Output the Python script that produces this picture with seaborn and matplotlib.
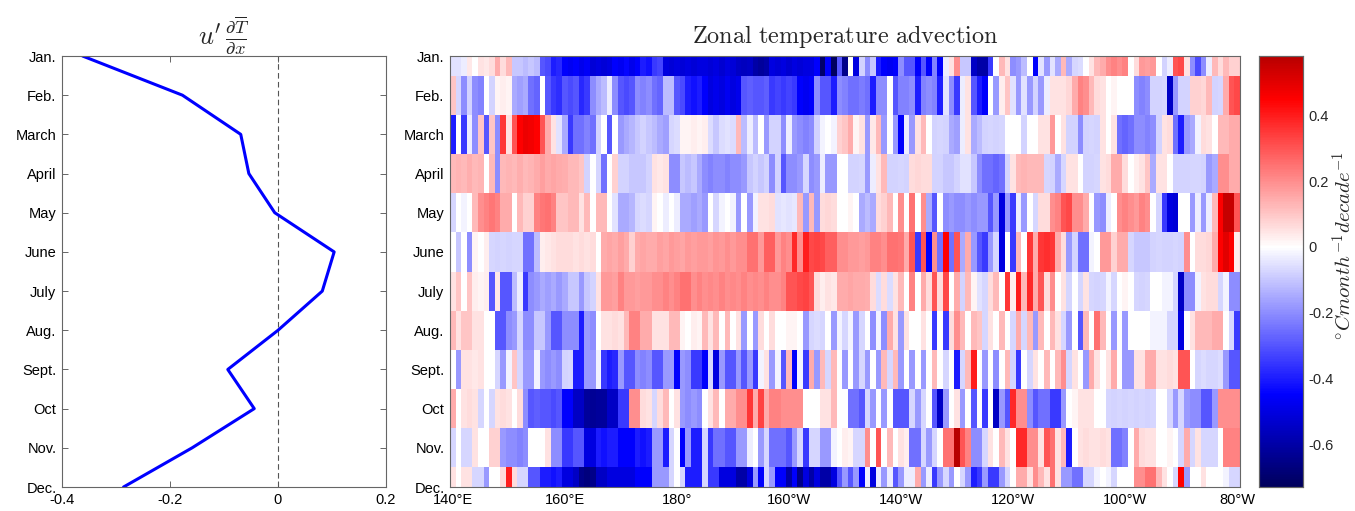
import numpy as np
import pandas as pd
import matplotlib
matplotlib.use("Agg")
import matplotlib.pyplot as plt
import seaborn as sns
from matplotlib.colors import LinearSegmentedColormap

months = ["Jan.", "Feb.", "March", "April", "May", "June", "July",
          "Aug.", "Sept.", "Oct", "Nov.", "Dec."]
u_dTdx = [-0.362, -0.177, -0.069, -0.054, -0.006, 0.104, 0.082, 0.0,
          -0.093, -0.044, -0.159, -0.286]
lon_ticks = [140, 160, 180, 200, 220, 240, 260, 280]
lon_labels = ["140°E", "160°E", "180°", "160°W", "140°W", "120°W", "100°W", "80°W"]
lons = list(range(140, 281))
cbar_ticks = [-0.6, -0.4, -0.2, 0, 0.2, 0.4]
cbar_labels = ["-0.6", "-0.4", "-0.2", "0", "0.2", "0.4"]

jan = [-0.05, -0.05, -0.03, 0.04, 0.0, 0.05, 0.04, 0.06, 0.15, 0.06,
       0.12, -0.1, -0.1, -0.12, -0.1, -0.12, -0.3, -0.32, -0.4, -0.38,
       -0.45, -0.47, -0.45, -0.48, -0.46, -0.52, -0.5, -0.52, -0.5, -0.45,
       -0.47, -0.44, -0.48, -0.45, -0.4, -0.42, -0.35, -0.33, -0.5, -0.52,
       -0.5, -0.52, -0.5, -0.52, -0.5, -0.5, -0.52, -0.5, -0.53, -0.5,
       -0.52, -0.55, -0.56, -0.55, -0.6, -0.62, -0.6, -0.5, -0.52, -0.5,
       -0.53, -0.5, -0.52, -0.5, -0.5, -0.45, -0.7, -0.45, -0.72, -0.3,
       -0.65, 0.0, -0.5, -0.08, -0.2, -0.1, -0.4, -0.45, -0.47, -0.45,
       -0.2, -0.3, -0.3, -0.45, -0.3, -0.45, -0.22, -0.45, -0.03, 0.05,
       0.2, -0.1, -0.1, -0.55, -0.6, -0.6, -0.35, 0.0, 0.12, 0.05,
       -0.2, -0.18, -0.12, 0.0, -0.45, -0.05, -0.18, -0.05, -0.15, 0.12,
       -0.15, -0.07, -0.06, 0.0, 0.05, 0.12, 0.15, 0.2, 0.22, 0.2,
       0.22, 0.0, 0.06, 0.18, 0.17, 0.18, 0.0, -0.08, -0.03, 0.3,
       0.32, 0.05, -0.2, -0.32, -0.2, -0.03, 0.12, 0.06, 0.12, 0.08, 0.08]
feb = [0.1, -0.07, -0.2, -0.08, -0.2, -0.22, 0.0, -0.08, 0.02, 0.03,
       0.02, -0.15, -0.17, -0.15, -0.25, -0.27, 0.0, -0.3, -0.35, -0.37,
       -0.3, -0.32, -0.3, -0.38, -0.35, -0.2, -0.15, -0.12, -0.03, -0.2,
       -0.3, -0.32, -0.3, -0.2, -0.22, -0.2, -0.25, -0.27, -0.12, -0.12,
       -0.3, -0.32, -0.4, -0.42, -0.4, -0.45, -0.5, -0.48, -0.5, -0.47,
       -0.5, -0.48, -0.3, -0.28, -0.3, -0.3, -0.28, -0.35, -0.33, -0.35,
       -0.33, -0.35, -0.45, -0.47, -0.45, -0.2, -0.3, -0.3, -0.4, -0.2,
       -0.22, -0.25, -0.25, -0.23, -0.25, -0.4, -0.2, -0.2, 0.0, -0.3,
       -0.22, -0.22, -0.2, -0.4, -0.22, -0.2, -0.22, -0.4, -0.05, -0.2,
       -0.35, -0.03, 0.05, -0.3, -0.4, -0.45, 0.0, -0.18, 0.03, 0.1,
       -0.05, -0.18, -0.05, -0.18, -0.08, -0.18, -0.03, 0.05, 0.05, 0.05,
       0.07, 0.15, 0.22, 0.2, 0.12, 0.06, 0.05, 0.0, 0.02, 0.0,
       0.0, 0.0, -0.2, -0.22, -0.2, -0.08, -0.08, -0.07, -0.55, -0.18,
       -0.08, -0.08, 0.08, 0.08, 0.07, 0.12, -0.08, -0.07, 0.15, 0.3, 0.32]
mar = [-0.4, 0.0, -0.35, -0.03, -0.2, 0.1, -0.3, 0.1, -0.2, 0.35,
       0.05, 0.3, 0.45, 0.48, 0.47, 0.45, 0.3, 0.15, 0.05, -0.05,
       -0.15, -0.35, -0.25, -0.25, -0.22, -0.25, -0.08, 0.0, -0.3, 0.0,
       -0.18, -0.15, -0.13, -0.1, -0.08, -0.1, -0.12, -0.15, -0.17, -0.07,
       -0.06, 0.02, 0.02, 0.03, 0.02, 0.03, -0.06, -0.1, -0.06, -0.05,
       -0.06, 0.12, -0.12, -0.03, -0.12, 0.0, -0.18, -0.08, -0.08, -0.2,
       -0.03, -0.18, -0.2, -0.22, -0.2, -0.08, -0.02, 0.0, -0.02, 0.08,
       0.1, 0.15, 0.02, 0.05, -0.18, 0.04, 0.12, -0.18, 0.0, -0.18,
       -0.45, -0.03, -0.18, 0.05, 0.12, 0.0, -0.08, -0.07, -0.08, -0.15,
       -0.17, -0.03, 0.05, -0.15, -0.12, -0.08, -0.07, -0.08, -0.07, 0.0,
       0.0, 0.0, -0.08, 0.0, 0.0, 0.05, 0.05, 0.18, 0.0, 0.05,
       -0.08, -0.08, -0.2, -0.08, -0.07, -0.08, 0.05, 0.0, 0.05, -0.25,
       -0.27, -0.25, -0.2, -0.2, -0.22, -0.2, -0.08, 0.05, 0.06, -0.25,
       -0.4, -0.18, -0.15, -0.02, 0.06, 0.05, 0.0, 0.12, 0.12, 0.15, 0.15]
apr = [0.12, 0.13, 0.12, 0.14, 0.12, 0.13, 0.0, 0.12, -0.2, 0.12,
       0.13, 0.12, 0.14, 0.12, 0.13, 0.15, 0.17, 0.15, 0.16, 0.15,
       0.14, 0.12, 0.12, 0.1, -0.08, 0.0, -0.07, -0.25, 0.0, 0.08,
       -0.08, -0.08, -0.1, -0.1, -0.1, -0.08, 0.05, 0.04, 0.05, -0.2,
       -0.2, -0.1, -0.12, -0.1, -0.15, -0.2, -0.22, -0.2, -0.2, -0.22,
       -0.2, -0.2, -0.18, -0.1, -0.08, -0.1, -0.08, -0.2, -0.08, -0.3,
       -0.2, -0.2, -0.18, -0.07, -0.2, -0.18, -0.03, -0.18, -0.18, 0.0,
       0.0, -0.08, -0.08, -0.07, -0.18, -0.03, 0.05, 0.12, -0.08, -0.08,
       -0.07, -0.08, 0.06, 0.07, 0.06, 0.06, -0.08, -0.08, -0.1, -0.1,
       -0.08, -0.05, -0.05, -0.1, -0.2, -0.25, -0.25, -0.27, -0.25, -0.08,
       0.05, 0.12, 0.13, 0.12, 0.12, 0.12, -0.07, -0.08, -0.15, -0.07,
       0.05, 0.05, 0.0, -0.08, -0.08, -0.07, 0.05, 0.06, 0.15, 0.15,
       0.06, 0.0, 0.03, 0.05, 0.1, -0.15, 0.05, 0.05, 0.0, -0.08,
       -0.08, -0.08, -0.07, -0.07, -0.08, -0.18, -0.15, 0.2, 0.2, 0.15, 0.15]
may = [-0.07, 0.0, -0.02, 0.0, 0.12, 0.2, 0.22, 0.24, 0.22, 0.15,
       0.15, 0.0, 0.12, 0.08, 0.08, 0.22, 0.24, 0.25, 0.22, 0.1,
       0.1, 0.12, 0.12, 0.05, 0.12, 0.0, 0.12, 0.12, 0.0, -0.05,
       -0.15, -0.15, -0.13, -0.07, -0.06, -0.07, 0.02, 0.0, -0.03, 0.0,
       -0.03, -0.15, -0.15, -0.17, -0.15, -0.18, 0.0, -0.07, -0.02, 0.0,
       -0.02, -0.18, 0.0, -0.18, -0.02, 0.05, 0.05, 0.06, -0.05, -0.04,
       -0.05, -0.04, 0.12, -0.18, 0.12, -0.18, 0.06, 0.07, 0.06, 0.0,
       0.0, 0.02, 0.0, -0.15, -0.12, -0.15, 0.06, 0.08, 0.12, 0.0,
       0.2, 0.0, 0.25, 0.0, 0.2, -0.15, -0.3, 0.0, -0.2, -0.18,
       -0.2, -0.2, -0.18, -0.2, -0.18, -0.18, -0.3, -0.18, -0.5, -0.18,
       -0.35, -0.03, -0.18, 0.0, -0.07, 0.06, 0.06, 0.2, 0.22, 0.3,
       0.32, 0.2, 0.2, 0.15, 0.0, -0.18, -0.2, -0.03, 0.0, 0.2,
       0.22, 0.2, 0.18, 0.22, 0.2, 0.0, -0.07, -0.35, -0.5, -0.52,
       0.0, 0.0, -0.18, -0.03, -0.18, -0.03, 0.12, 0.45, 0.55, 0.55, 0.3]
jun = [0.0, -0.1, 0.0, -0.2, 0.02, 0.0, 0.03, -0.07, -0.08, -0.07,
       -0.08, -0.07, -0.07, -0.25, -0.25, -0.12, 0.03, 0.04, 0.05, 0.06,
       0.06, 0.06, 0.05, 0.06, 0.05, 0.06, 0.0, 0.15, 0.16, 0.15,
       0.17, 0.15, 0.08, 0.15, 0.16, 0.15, 0.15, 0.17, 0.16, 0.18,
       0.17, 0.16, 0.18, 0.17, 0.18, 0.18, 0.17, 0.19, 0.18, 0.2,
       0.18, 0.2, 0.2, 0.25, 0.25, 0.18, 0.28, 0.28, 0.18, 0.22,
       0.2, 0.38, 0.2, 0.4, 0.32, 0.33, 0.32, 0.28, 0.28, 0.2,
       0.2, 0.18, 0.18, 0.17, 0.18, 0.22, 0.22, 0.2, 0.25, 0.25,
       0.24, 0.15, 0.3, -0.35, 0.3, -0.45, 0.2, -0.25, 0.45, -0.25,
       0.3, -0.15, 0.15, -0.18, -0.3, -0.35, -0.18, -0.07, -0.5, 0.0,
       -0.35, 0.12, 0.0, 0.35, 0.15, 0.35, 0.37, 0.35, 0.15, 0.06,
       -0.18, -0.08, -0.25, -0.25, -0.02, 0.0, 0.18, 0.18, 0.08, 0.15,
       0.15, -0.07, -0.1, -0.1, -0.1, -0.08, -0.07, -0.08, -0.08, -0.07,
       -0.08, 0.2, 0.0, 0.06, 0.06, 0.07, 0.15, 0.45, 0.5, 0.45, 0.03]
jul = [0.05, 0.1, 0.0, 0.1, 0.03, 0.02, 0.03, -0.3, 0.04, -0.3,
       -0.3, -0.12, -0.03, -0.35, -0.2, -0.18, -0.15, -0.17, -0.15, -0.18,
       -0.15, -0.1, -0.1, -0.18, -0.1, -0.08, 0.05, 0.18, 0.18, 0.17,
       0.22, 0.18, 0.18, 0.17, 0.18, 0.18, 0.2, 0.2, 0.22, 0.2,
       0.22, 0.25, 0.25, 0.2, 0.22, 0.2, 0.21, 0.2, 0.22, 0.2,
       0.21, 0.2, 0.22, 0.2, 0.21, 0.2, 0.22, 0.2, 0.2, 0.22,
       0.3, 0.3, 0.32, 0.33, 0.3, 0.06, 0.03, 0.05, 0.04, 0.15,
       0.15, 0.16, 0.15, 0.15, 0.14, 0.06, -0.06, 0.06, -0.06, 0.05,
       0.12, 0.0, 0.22, 0.0, 0.15, 0.06, 0.3, 0.06, 0.32, 0.0,
       0.15, -0.08, 0.12, 0.02, -0.05, -0.07, 0.06, 0.12, 0.0, 0.35,
       0.03, 0.4, 0.12, 0.38, 0.15, 0.3, 0.06, 0.2, 0.0, 0.05,
       -0.07, 0.0, -0.07, 0.05, -0.07, -0.08, -0.07, -0.02, -0.07, 0.0,
       0.02, 0.0, -0.07, -0.08, -0.07, 0.0, 0.0, -0.02, -0.02, -0.07,
       -0.55, -0.2, -0.2, -0.02, 0.05, 0.06, 0.06, -0.07, -0.02, -0.2, -0.2]
aug = [0.12, 0.05, 0.1, 0.1, 0.05, 0.05, 0.0, 0.0, -0.3, -0.3,
       -0.2, -0.18, -0.07, -0.2, -0.2, -0.1, -0.1, -0.18, -0.3, -0.3,
       -0.2, -0.2, -0.2, -0.4, -0.18, -0.2, 0.0, 0.05, 0.05, 0.06,
       0.05, 0.12, 0.22, 0.22, 0.15, 0.15, 0.05, 0.05, 0.05, 0.12,
       0.12, 0.02, 0.0, 0.03, 0.02, 0.12, 0.05, 0.12, 0.0, 0.12,
       0.0, 0.05, -0.18, 0.0, -0.18, 0.06, 0.0, 0.06, 0.0, 0.0,
       0.02, 0.02, 0.0, -0.18, -0.07, -0.06, -0.07, 0.0, -0.18, -0.02,
       -0.07, -0.02, -0.18, -0.07, 0.0, -0.2, -0.02, -0.2, 0.15, 0.05,
       -0.18, 0.05, 0.0, 0.0, 0.05, 0.0, -0.35, 0.0, -0.35, 0.06,
       0.2, 0.12, 0.0, 0.12, 0.1, -0.07, 0.05, 0.0, 0.12, 0.0,
       -0.07, 0.15, -0.07, 0.12, -0.18, 0.12, 0.0, 0.12, 0.05, -0.07,
       -0.18, 0.0, -0.3, 0.12, 0.0, 0.25, 0.12, 0.0, -0.18, 0.0,
       -0.18, 0.0, 0.0, 0.0, 0.0, -0.02, -0.02, -0.02, -0.07, -0.07,
       -0.5, 0.0, 0.05, 0.12, 0.12, 0.12, 0.15, 0.15, 0.0, -0.07, -0.35]
sep = [0.0, -0.18, 0.05, 0.05, 0.04, 0.05, 0.0, 0.0, -0.07, -0.18,
       -0.02, 0.1, -0.07, -0.18, -0.18, -0.02, -0.18, -0.2, -0.18, -0.2,
       -0.08, -0.07, -0.4, -0.4, -0.18, -0.18, -0.02, -0.35, -0.4, -0.38,
       -0.18, -0.3, -0.3, -0.2, -0.22, -0.2, -0.3, -0.3, -0.18, -0.18,
       -0.45, -0.18, -0.2, -0.35, -0.35, -0.45, -0.07, -0.5, -0.18, -0.3,
       -0.3, -0.18, -0.3, -0.18, -0.35, -0.02, 0.05, -0.18, -0.02, -0.3,
       0.12, -0.45, -0.02, -0.35, 0.15, -0.18, 0.12, -0.07, 0.12, 0.0,
       -0.18, 0.0, -0.18, -0.07, -0.18, 0.0, -0.18, 0.12, -0.07, 0.12,
       -0.18, 0.0, -0.18, 0.0, -0.18, 0.0, 0.12, 0.0, -0.07, 0.0,
       -0.4, -0.07, 0.12, 0.4, 0.0, -0.18, 0.0, -0.2, 0.0, 0.12,
       -0.07, -0.35, 0.0, -0.07, 0.05, 0.0, 0.12, 0.0, 0.12, 0.2,
       -0.07, 0.05, 0.0, -0.18, 0.15, 0.05, 0.0, 0.05, 0.15, 0.0,
       -0.18, -0.18, 0.05, 0.05, 0.15, 0.15, 0.05, 0.05, 0.06, 0.05,
       0.3, 0.3, 0.0, -0.07, -0.06, -0.07, -0.07, -0.06, -0.18, -0.3, -0.3]
oct_ = [0.15, 0.0, 0.05, 0.06, 0.05, -0.07, 0.0, -0.07, 0.05, 0.06,
        0.05, 0.0, 0.06, -0.2, -0.3, -0.28, -0.3, -0.3, -0.32, -0.3,
        -0.45, -0.45, -0.55, -0.55, -0.62, -0.63, -0.62, -0.62, -0.55, -0.55,
        -0.35, -0.35, 0.2, 0.2, 0.06, 0.05, -0.07, 0.06, 0.12, 0.0,
        0.05, -0.18, -0.2, -0.18, -0.2, 0.0, 0.05, 0.12, 0.0, 0.15,
        0.15, 0.2, 0.2, 0.35, 0.15, 0.33, 0.15, 0.22, 0.22, 0.2,
        0.2, 0.2, 0.2, 0.0, 0.0, 0.0, 0.05, 0.05, 0.12, 0.0,
        0.0, -0.25, -0.25, -0.3, -0.07, -0.18, 0.0, -0.18, 0.0, -0.3,
        -0.3, -0.3, -0.07, -0.18, -0.07, 0.0, -0.3, -0.55, -0.18, 0.0,
        0.05, -0.18, 0.0, -0.3, 0.0, -0.35, 0.0, -0.55, -0.18, -0.3,
        0.38, 0.2, 0.2, -0.2, -0.3, -0.25, -0.25, -0.35, -0.35, -0.18,
        0.0, 0.02, 0.05, 0.05, 0.05, 0.0, 0.0, -0.07, -0.08, -0.07,
        -0.08, -0.07, -0.08, -0.07, -0.08, -0.07, 0.0, 0.0, -0.07, -0.18,
        -0.07, -0.18, -0.2, -0.2, -0.3, -0.3, -0.18, 0.2, 0.2, 0.2, 0.2]
nov = [-0.07, 0.0, -0.07, -0.07, 0.05, 0.0, 0.0, 0.08, 0.08, -0.18,
       -0.2, -0.2, -0.22, -0.2, 0.0, 0.0, 0.0, 0.05, -0.2, -0.2,
       -0.35, -0.35, -0.3, -0.3, -0.5, -0.5, -0.4, -0.42, -0.4, -0.4,
       -0.45, -0.45, -0.45, -0.4, -0.42, -0.4, -0.18, -0.18, -0.4, -0.07,
       0.0, -0.45, -0.18, -0.4, -0.4, -0.07, -0.35, -0.25, -0.25, -0.3,
       -0.3, -0.18, -0.18, -0.03, 0.0, -0.18, -0.07, -0.25, -0.25, -0.25,
       -0.3, -0.18, -0.07, -0.35, -0.07, -0.07, -0.18, -0.18, -0.02, 0.0,
       0.03, 0.02, -0.07, -0.07, 0.2, 0.0, 0.3, 0.0, 0.12, 0.0,
       0.05, 0.03, -0.25, -0.25, -0.07, -0.18, -0.07, 0.0, 0.25, 0.25,
       0.58, 0.3, 0.22, -0.2, -0.2, -0.07, 0.05, 0.0, 0.12, 0.05,
       0.0, 0.38, 0.38, 0.2, 0.2, 0.05, 0.3, 0.25, 0.05, 0.12,
       -0.4, 0.0, 0.05, 0.06, 0.05, 0.05, 0.06, 0.05, -0.25, -0.25,
       -0.22, 0.0, 0.15, 0.06, 0.05, 0.05, 0.0, 0.0, 0.02, 0.0,
       -0.07, 0.15, -0.07, 0.05, -0.07, -0.07, -0.07, 0.0, 0.22, 0.22, 0.22]
dec = [0.05, 0.0, 0.05, 0.05, -0.07, -0.07, -0.18, 0.0, 0.0, 0.06,
       0.4, 0.06, -0.07, -0.07, -0.3, -0.3, -0.4, -0.4, -0.42, -0.4,
       -0.5, -0.5, -0.55, -0.65, -0.67, -0.65, -0.55, -0.55, -0.5, -0.5,
       -0.5, -0.5, -0.5, -0.45, -0.45, -0.45, -0.18, -0.18, -0.18, -0.07,
       0.0, -0.07, -0.4, -0.4, -0.4, -0.07, -0.35, -0.35, -0.5, -0.5,
       -0.5, -0.6, -0.6, -0.5, -0.18, -0.45, -0.07, -0.18, -0.45, -0.45,
       -0.6, -0.45, -0.65, -0.5, -0.6, -0.5, -0.6, -0.6, -0.5, -0.3,
       -0.18, -0.3, -0.18, -0.45, -0.03, -0.5, -0.03, -0.18, -0.03, -0.3,
       -0.18, -0.03, -0.03, 0.15, -0.18, -0.03, -0.35, -0.18, -0.07, -0.18,
       0.0, -0.07, -0.18, -0.4, -0.35, -0.18, -0.35, -0.35, -0.18, -0.07,
       0.0, 0.15, 0.15, 0.05, 0.2, 0.12, 0.05, 0.25, 0.05, -0.18,
       -0.18, -0.25, -0.25, -0.07, -0.07, -0.02, 0.0, -0.02, -0.07, 0.0,
       0.0, 0.0, 0.2, 0.2, 0.25, 0.25, 0.12, 0.05, 0.0, -0.07,
       0.45, -0.18, 0.0, 0.0, 0.05, 0.0, 0.0, 0.0, -0.02, -0.07, -0.07]

rows = [jan, feb, mar, apr, may, jun, jul, aug, sep, oct_, nov, dec]
for r in rows:
    assert len(r) == len(lons), len(r)
adv = pd.DataFrame(rows, index=months, columns=lons)

# ---------------- style ----------------
sns.set_style("white")
plt.rcParams["font.family"] = ["Liberation Sans", "DejaVu Sans"]
plt.rcParams["mathtext.fontset"] = "cm"
plt.rcParams["axes.unicode_minus"] = False

VMIN, VMAX = -0.73, 0.58
nodes = [(-0.73, (0.0, 0.0, 0.36)), (-0.45, (0.0, 0.0, 1.0)), (0.0, (1.0, 1.0, 1.0)),
         (0.45, (1.0, 0.0, 0.0)), (0.58, (0.72, 0.0, 0.0))]
cmap = LinearSegmentedColormap.from_list(
    "rb", [((v - VMIN) / (VMAX - VMIN), c) for v, c in nodes])

W, H = 1355, 511
fig = plt.figure(figsize=(W / 100, H / 100), dpi=100)
bot = 1 - 487 / H
hgt = (487 - 56) / H
ax1 = fig.add_axes([62 / W, bot, (386 - 62) / W, hgt])
ax2 = fig.add_axes([450 / W, bot, (1240 - 450) / W, hgt])
cax = fig.add_axes([1259 / W, bot, (1303 - 1259) / W, hgt])

frame = "#666666"
tick_fs = 10.5

# ---------------- left line plot ----------------
ax1.axvline(0, color="#555555", lw=0.8, ls=(0, (5, 3)))
sns.lineplot(x=u_dTdx, y=list(range(1, 13)), sort=False, estimator=None,
             color="#0000ff", lw=2.2, ax=ax1)
ax1.set_xlim(-0.4, 0.2)
ax1.set_ylim(12, 1)
ax1.set_yticks(range(1, 13))
ax1.set_yticklabels(months)
ax1.set_xticks([-0.4, -0.2, 0, 0.2])
ax1.set_xticklabels(["-0.4", "-0.2", "0", "0.2"])
ax1.set_title(r"$u'\,\frac{\partial\overline{T}}{\partial x}$", fontsize=19, pad=8)

# ---------------- heatmap ----------------
sns.heatmap(adv, ax=ax2, cmap=cmap, vmin=VMIN, vmax=VMAX, cbar_ax=cax,
            xticklabels=False, yticklabels=False,
            cbar_kws={"ticks": cbar_ticks})
ax2.set_xlim(0, len(lons))
ax2.set_ylim(11.5, 0.5)
ax2.set_yticks(np.arange(12) + 0.5)
ax2.set_yticklabels(months, rotation=0)
ax2.set_xticks([lons.index(t) + 0.5 for t in lon_ticks])
ax2.set_xticklabels(lon_labels, rotation=0)
ax2.set_xlabel("")
ax2.set_ylabel("")
ax2.set_title(r"$\mathrm{Zonal\ temperature\ advection}$", fontsize=17.5, pad=9)

for ax in (ax1, ax2):
    for s in ax.spines.values():
        s.set_visible(True)
        s.set_color(frame)
        s.set_linewidth(0.8)
    ax.tick_params(direction="in", length=4, width=0.7, color=frame,
                   top=True, right=True, bottom=True, left=True,
                   labelsize=tick_fs, labelcolor="black", pad=4)

# ---------------- colorbar ----------------
cax.set_yticks(cbar_ticks)
cax.set_yticklabels(cbar_labels)
cax.tick_params(direction="in", length=4, width=0.7, color=frame,
                left=True, right=True, labelleft=False, labelright=True,
                labelsize=tick_fs, pad=4)
for s in cax.spines.values():
    s.set_visible(True)
    s.set_color(frame)
    s.set_linewidth(0.8)
fig.text(1344 / W, 1 - 245 / H, r"$^{\circ}Cmonth^{-1}decade^{-1}$",
         rotation=90, ha="center", va="center", fontsize=15)

fig.savefig("out.png", dpi=100)
